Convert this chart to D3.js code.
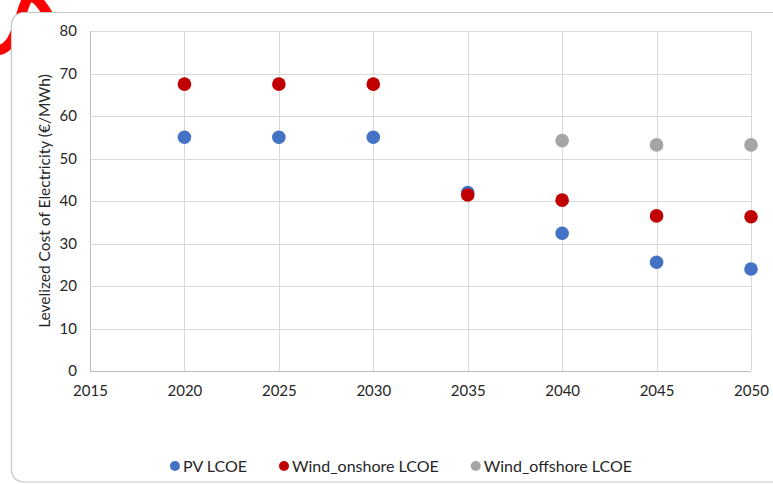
<!DOCTYPE html>
<html>
<head>
<meta charset="utf-8">
<script src="https://cdn.jsdelivr.net/npm/d3@7/dist/d3.min.js"></script>
<style>
  html, body { margin: 0; padding: 0; background: #fff; }
  svg { display: block; }
  text { font-family: Lato, "Open Sans", sans-serif; fill: #262626; }
</style>
</head>
<body>
<svg id="chart" width="773" height="484"></svg>
<script>
// Levelized cost of electricity by technology, 2020–2050
const years = [2020, 2025, 2030, 2035, 2040, 2045, 2050];
const pvLcoe = [55, 55, 55, 42, 32.4, 25.6, 24];
const onshoreLcoe = [67.5, 67.5, 67.5, 41.4, 40.2, 36.5, 36.3];
const offshoreYears = [2040, 2045, 2050];
const offshoreLcoe = [54.2, 53.2, 53.2];
const xTicks = [2015, 2020, 2025, 2030, 2035, 2040, 2045, 2050];
const yTicks = [0, 10, 20, 30, 40, 50, 60, 70, 80];
const seriesNames = ["PV LCOE", "Wind_onshore LCOE", "Wind_offshore LCOE"];
const seriesColors = ["#4472C4", "#C00000", "#A5A5A5"];
const yTitle = "Levelized Cost of Electricity (€/MWh)";

const svg = d3.select("#chart");

// red hand-drawn mark partly behind the chart frame
svg.append("path")
  .attr("d", "M -6,50 C 30,55 14,-45 50,18")
  .attr("fill", "none")
  .attr("stroke", "#FF0000")
  .attr("stroke-width", 10);

// chart frame
svg.append("rect")
  .attr("x", 11.5).attr("y", 12.5)
  .attr("width", 790).attr("height", 469.5)
  .attr("rx", 12).attr("ry", 12)
  .attr("fill", "#fff")
  .attr("stroke", "#c6c6c6")
  .attr("stroke-width", 1.2);

const plot = { left: 90, right: 751, top: 31, bottom: 371 };

const x = d3.scaleLinear().domain([2015, 2050]).range([plot.left, plot.right]);
const y = d3.scaleLinear().domain([0, 80]).range([plot.bottom, plot.top]);

const g = svg.append("g");

// horizontal gridlines
g.append("g")
  .attr("transform", `translate(${plot.left},0)`)
  .call(d3.axisLeft(y).tickValues(yTicks).tickSize(-(plot.right - plot.left)).tickFormat(""))
  .call(a => a.select(".domain").remove())
  .call(a => a.selectAll("line").attr("stroke", "#d9d9d9").attr("shape-rendering", "crispEdges"));

// vertical gridlines
g.append("g")
  .attr("transform", `translate(0,${plot.bottom})`)
  .call(d3.axisBottom(x).tickValues(xTicks).tickSize(-(plot.bottom - plot.top)).tickFormat(""))
  .call(a => a.select(".domain").remove())
  .call(a => a.selectAll("line").attr("stroke", "#d9d9d9").attr("shape-rendering", "crispEdges"));

// axis lines
g.append("line")
  .attr("x1", plot.left).attr("x2", plot.left)
  .attr("y1", plot.top).attr("y2", plot.bottom)
  .attr("stroke", "#bfbfbf").attr("shape-rendering", "crispEdges");
g.append("line")
  .attr("x1", plot.left).attr("x2", plot.right)
  .attr("y1", plot.bottom).attr("y2", plot.bottom)
  .attr("stroke", "#bfbfbf").attr("shape-rendering", "crispEdges");

// y tick labels
g.append("g")
  .attr("transform", `translate(${plot.left},0)`)
  .call(d3.axisLeft(y).tickValues(yTicks).tickSize(0).tickPadding(13))
  .call(a => a.select(".domain").remove())
  .call(a => a.selectAll("text").attr("font-size", 15).attr("font-family", "Lato, sans-serif").attr("fill", "#262626"));

// x tick labels
g.append("g")
  .attr("transform", `translate(0,${plot.bottom})`)
  .call(d3.axisBottom(x).tickValues(xTicks).tickSize(0).tickPadding(14).tickFormat(d3.format("d")))
  .call(a => a.select(".domain").remove())
  .call(a => a.selectAll("text").attr("font-size", 15).attr("font-family", "Lato, sans-serif").attr("fill", "#262626"));

// y axis title
svg.append("text")
  .attr("transform", `translate(50,${(plot.top + plot.bottom) / 2}) rotate(-90)`)
  .attr("text-anchor", "middle")
  .attr("font-size", 15.5)
  .text(yTitle);

// scatter points
const series = [
  { xs: years, ys: pvLcoe },
  { xs: years, ys: onshoreLcoe },
  { xs: offshoreYears, ys: offshoreLcoe }
];
series.forEach((s, i) => {
  g.append("g").selectAll("circle")
    .data(s.xs.map((yr, k) => [yr, s.ys[k]]))
    .join("circle")
    .attr("cx", d => x(d[0]))
    .attr("cy", d => y(d[1]))
    .attr("r", 6.8)
    .attr("fill", seriesColors[i]);
});

// legend
const legend = svg.append("g").attr("transform", "translate(0,466)");
const items = legend.selectAll("g").data(seriesNames).join("g");
items.append("circle").attr("r", 5).attr("fill", (d, i) => seriesColors[i]);
items.append("text")
  .attr("x", 8)
  .attr("dy", "0.35em")
  .attr("font-size", 16)
  .text(d => d);
const gap = 32;
let widths = [];
items.each(function() { widths.push(13 + this.querySelector("text").getComputedTextLength()); });
const total = d3.sum(widths) + gap * (widths.length - 1);
let cursor = 401 - total / 2 + 5;
items.attr("transform", (d, i) => {
  const t = `translate(${cursor},0)`;
  cursor += widths[i] + gap;
  return t;
});
</script>
</body>
</html>
